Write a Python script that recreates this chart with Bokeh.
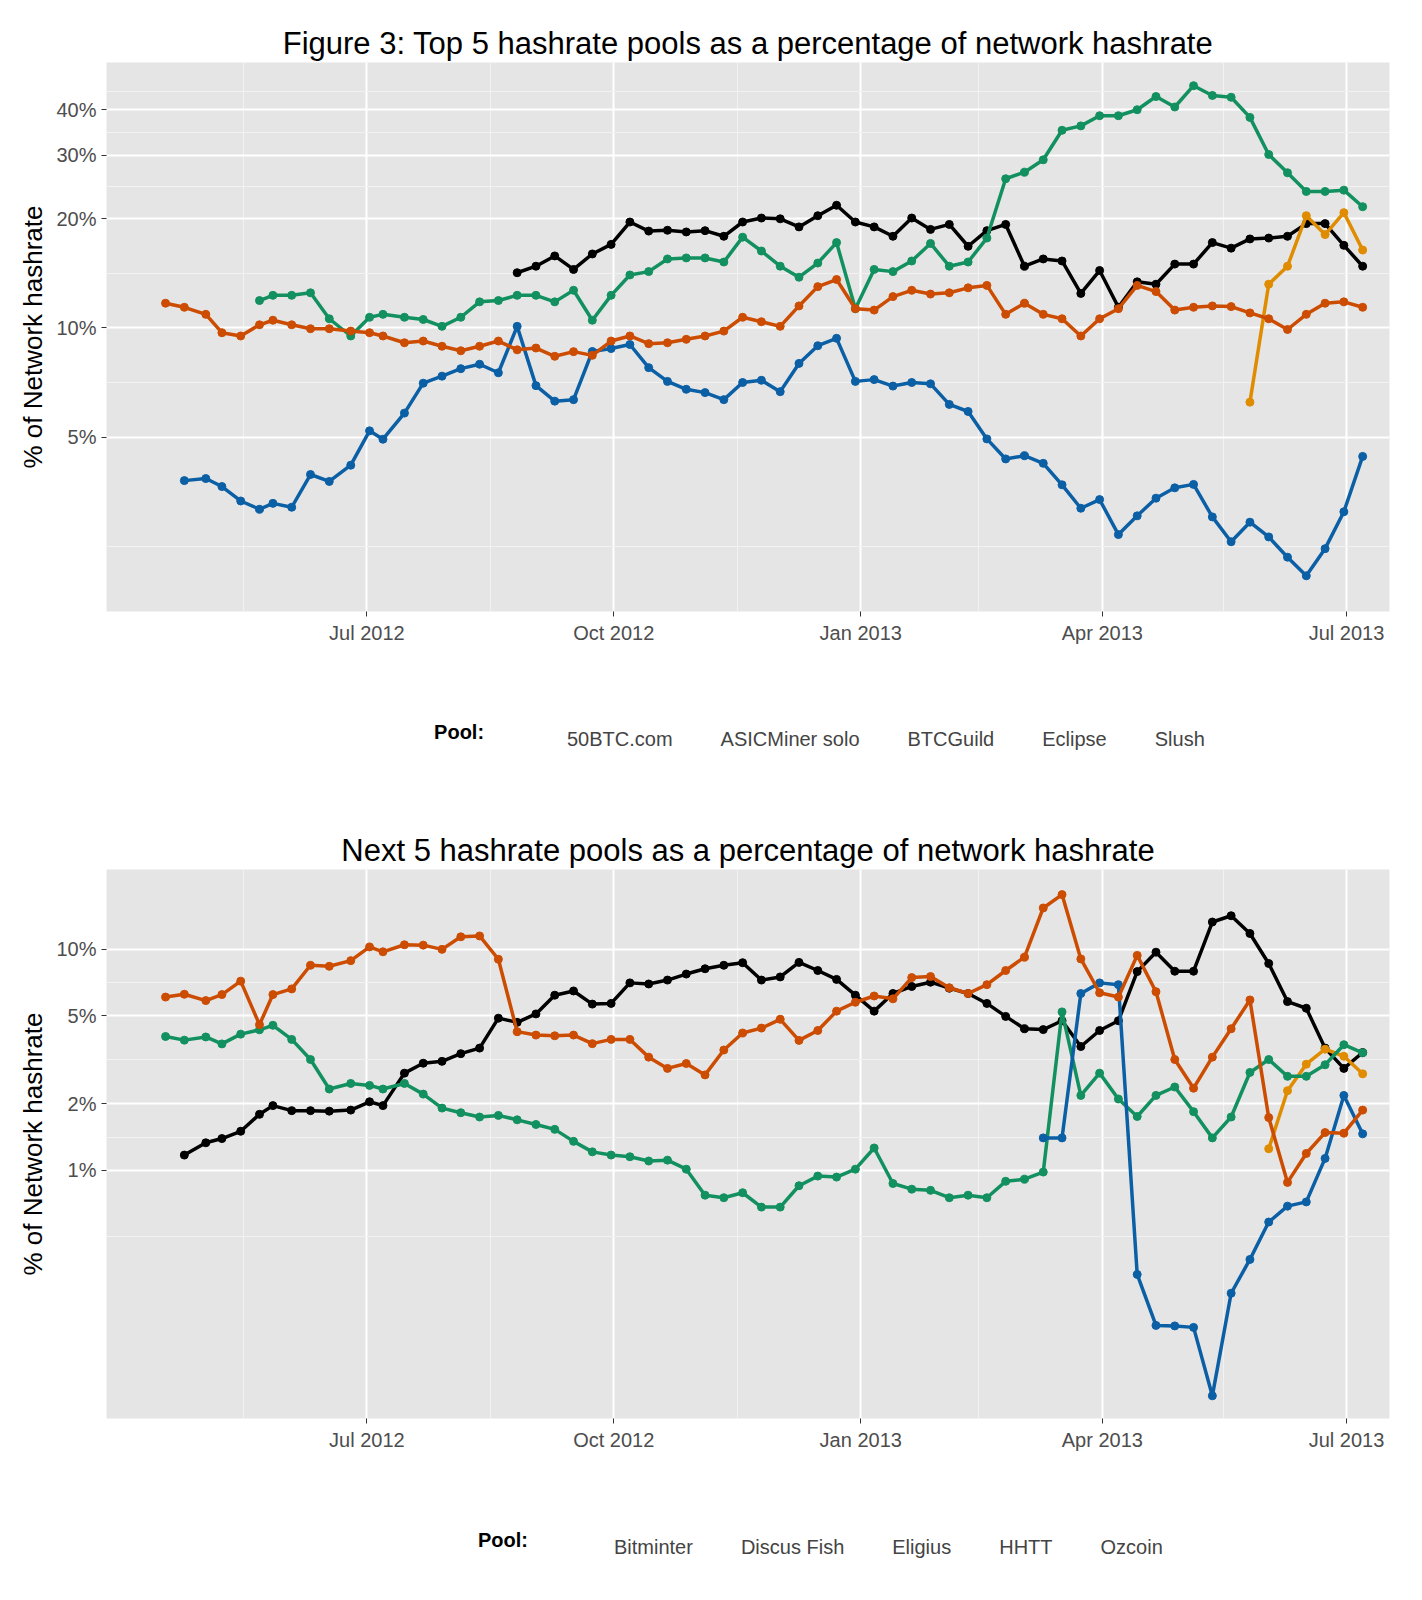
import pandas as pd
from bokeh.plotting import figure
from bokeh.layouts import column
from bokeh.models import Range1d, FixedTicker, Legend, LegendItem, ColumnDataSource
from bokeh.core.properties import value
from bokeh.embed import file_html
from bokeh.resources import INLINE

dates = ["2012-04-17", "2012-04-24", "2012-05-02", "2012-05-08", "2012-05-15", "2012-05-22",
         "2012-05-27", "2012-06-03", "2012-06-10", "2012-06-17", "2012-06-25", "2012-07-02",
         "2012-07-07"] + [d.strftime("%Y-%m-%d") for d in pd.date_range("2012-07-15", periods=52, freq="7D")]

N = None
top_names = ["50BTC.com", "ASICMiner solo", "BTCGuild", "Eclipse", "Slush"]
btc50 = [N]*19 + [14.2, 14.8, 15.8, 14.5, 16.0, 17.0, 19.6, 18.5, 18.6, 18.4, 18.55, 17.9, 19.6, 20.1, 20.0,
                  19.0, 20.4, 21.8, 19.6, 19.0, 17.9, 20.1, 18.7, 19.3, 16.8, 18.55, 19.3, 14.8, 15.5, 15.3,
                  12.45, 14.4, 11.4, 13.4, 13.2, 15.0, 15.0, 17.2, 16.6, 17.6, 17.7, 17.9, 19.4, 19.4, 16.9, 14.8]
asicminer = [N]*58 + [6.24, 13.2, 14.8, 20.4, 18.1, 20.8, 16.4]
btcguild = [N]*5 + [11.9, 12.3, 12.3, 12.5, 10.6, 9.5, 10.7, 10.9, 10.7, 10.55, 10.1, 10.7, 11.8, 11.9, 12.3,
                    12.3, 11.8, 12.7, 10.5, 12.3, 14.0, 14.3, 15.5, 15.6, 15.6, 15.2, 17.8, 16.3, 14.8, 13.8,
                    15.1, 17.2, 11.3, 14.5, 14.3, 15.3, 17.1, 14.8, 15.2, 17.7, 25.8, 26.9, 29.1, 35.1, 36.1,
                    38.5, 38.5, 40.0, 43.5, 40.7, 46.6, 43.8, 43.3, 38.1, 30.1, 26.8, 23.8, 23.8, 24.0, 21.6]
eclipse = [N, 3.79, 3.84, 3.65, 3.33, 3.16, 3.28, 3.20, 3.94, 3.77, 4.18, 5.20, 4.93, 5.82, 7.04, 7.36, 7.72,
           7.94, 7.52, 10.1, 6.93, 6.28, 6.34, 8.61, 8.77, 9.0, 7.77, 7.12, 6.77, 6.63, 6.34, 7.07, 7.17, 6.67,
           7.98, 8.93, 9.36, 7.12, 7.2, 6.91, 7.07, 7.01, 6.15, 5.88, 4.94, 4.35, 4.44, 4.23, 3.69, 3.18, 3.36,
           2.69, 3.03, 3.39, 3.62, 3.70, 3.01, 2.57, 2.91, 2.65, 2.33, 2.07, 2.46, 3.11, 4.42]
slush = [11.7, 11.4, 10.9, 9.7, 9.5, 10.2, 10.5, 10.2, 9.95, 9.95, 9.8, 9.7, 9.5, 9.1, 9.2, 8.9, 8.65, 8.9, 9.2,
         8.7, 8.8, 8.35, 8.6, 8.4, 9.2, 9.5, 9.05, 9.1, 9.3, 9.5, 9.8, 10.7, 10.4, 10.1, 11.5, 13.0, 13.6, 11.3,
         11.2, 12.2, 12.7, 12.4, 12.5, 12.9, 13.1, 10.9, 11.7, 10.9, 10.6, 9.5, 10.6, 11.3, 13.1, 12.6, 11.2,
         11.4, 11.5, 11.45, 11.0, 10.6, 9.9, 10.9, 11.7, 11.8, 11.4]

bottom_names = ["Bitminter", "Discus Fish", "Eligius", "HHTT", "Ozcoin"]
bitminter = [N, 1.17, 1.33, 1.39, 1.50, 1.79, 1.96, 1.86, 1.86, 1.85, 1.87, 2.04, 1.96, 2.75, 3.05, 3.11, 3.37,
             3.57, 4.88, 4.67, 5.10, 6.20, 6.48, 5.65, 5.69, 7.05, 6.97, 7.26, 7.73, 8.17, 8.47, 8.70, 7.26,
             7.50, 8.73, 8.02, 7.31, 6.20, 5.25, 6.31, 6.79, 7.10, 6.67, 6.31, 5.69, 4.97, 4.37, 4.33, 4.75,
             3.63, 4.29, 4.75, 7.93, 9.71, 7.96, 7.96, 13.3, 14.2, 11.8, 8.63, 5.80, 5.41, 3.57, 2.89, 3.41]
discus = [N]*59 + [1.25, 2.29, 3.02, 3.53, 3.28, 2.73]
eligius = [4.03, 3.88, 4.01, 3.73, 4.13, 4.32, 4.53, 3.91, 3.17, 2.33, 2.47, 2.42, 2.33, 2.47, 2.21, 1.91, 1.82,
           1.74, 1.77, 1.69, 1.61, 1.53, 1.35, 1.21, 1.17, 1.15, 1.10, 1.11, 1.01, 0.77, 0.75, 0.79, 0.68,
           0.68, 0.85, 0.94, 0.93, 1.01, 1.26, 0.87, 0.82, 0.81, 0.75, 0.77, 0.75, 0.89, 0.91, 0.98, 5.21,
           2.18, 2.75, 2.10, 1.75, 2.18, 2.38, 1.84, 1.40, 1.74, 2.77, 3.17, 2.66, 2.66, 3.00, 3.70, 3.40]
hhtt = [N]*47 + [1.40, 1.40, 6.31, 7.05, 6.92, 0.337, 0.198, 0.197, 0.194, 0.095, 0.277, 0.394, 0.582,
                 0.687, 0.718, 1.13, 2.18, 1.46]
ozcoin = [6.08, 6.26, 5.86, 6.24, 7.18, 4.56, 6.24, 6.62, 8.47, 8.38, 8.89, 10.26, 9.75, 10.49, 10.45, 10.0,
          11.4, 11.5, 9.02, 4.24, 4.09, 4.06, 4.09, 3.74, 3.91, 3.91, 3.25, 2.89, 3.04, 2.70, 3.50, 4.18, 4.40,
          4.82, 3.87, 4.29, 5.25, 5.76, 6.15, 5.97, 7.45, 7.53, 6.7, 6.31, 6.92, 8.02, 9.22, 15.4, 17.7, 9.05,
          6.36, 6.08, 9.39, 6.43, 3.17, 2.35, 3.25, 4.37, 5.9, 1.73, 0.88, 1.19, 1.48, 1.47, 1.87]

colors = ["#000000", "#E08C00", "#12905F", "#0B5FA5", "#CC4C02"]
x_tick_dates = ["2012-07-01", "2012-10-01", "2013-01-01", "2013-04-01", "2013-07-01"]
x_tick_labels = ["Jul 2012", "Oct 2012", "Jan 2013", "Apr 2013", "Jul 2013"]
x_minor_dates = ["2012-05-16", "2012-08-16", "2012-11-16", "2013-02-14", "2013-05-16"]
top_yticks = [5, 10, 20, 30, 40]
top_yminor = [2.5, 7.07, 14.1, 24.5, 34.6, 45]
bot_yticks = [1, 2, 5, 10]
bot_yminor = [0.5, 1.41, 3.16, 7.07]

FONT = "Liberation Sans"
W = 1406
ms = lambda d: pd.Timestamp(d).value / 1e6


def make_fig(title, names, series, yrange, yticks, yminor, top_border):
    p = figure(width=W, height=top_border + 549 + 48, x_axis_type="datetime", y_axis_type="log",
               x_range=Range1d(ms("2012-03-26"), ms("2013-07-17")), y_range=Range1d(*yrange),
               output_backend="svg", toolbar_location=None,
               min_border_left=106, min_border_right=17, min_border_top=top_border, min_border_bottom=48,
               background_fill_color="#E5E5E5", outline_line_color=None)
    p.title.text = title
    p.title.text_font = FONT
    p.title.text_font_size = "31px"
    p.title.text_font_style = "normal"
    p.title.text_color = "black"
    p.title.align = "center"
    p.title.standoff = 4
    p.xaxis.ticker = FixedTicker(ticks=[ms(d) for d in x_tick_dates], minor_ticks=[ms(d) for d in x_minor_dates])
    p.xaxis.major_label_overrides = {ms(d): l for d, l in zip(x_tick_dates, x_tick_labels)}
    p.yaxis.ticker = FixedTicker(ticks=yticks, minor_ticks=yminor)
    p.yaxis.major_label_overrides = {t: f"{t}%" for t in yticks}
    p.yaxis.axis_label = "% of Network hashrate"
    for ax in (p.xaxis, p.yaxis):
        ax.axis_line_color = None
        ax.minor_tick_line_color = None
        ax.major_tick_line_color = "#333333"
        ax.major_tick_in = 0
        ax.major_tick_out = 5
        ax.major_label_text_font = FONT
        ax.major_label_text_font_size = "20px"
        ax.major_label_text_color = "#4D4D4D"
        ax.axis_label_text_font = FONT
        ax.axis_label_text_font_size = "26px"
        ax.axis_label_text_font_style = "normal"
        ax.axis_label_text_color = "black"
    for g in (p.xgrid, p.ygrid):
        g.grid_line_color = "white"
        g.grid_line_width = 2
        g.minor_grid_line_color = "#F2F2F2"
        g.minor_grid_line_width = 1
    for name, vals, col in zip(names, series, colors):
        xs = [pd.Timestamp(d) for d, v in zip(dates, vals) if v is not None]
        ys = [v for v in vals if v is not None]
        src = ColumnDataSource(dict(x=xs, y=ys))
        p.line("x", "y", source=src, line_color=col, line_width=3.5)
        p.scatter("x", "y", source=src, color=col, size=8)
    return p


def make_legend(names, pool_x, glyph_x, center_from_top):
    H = 120
    q = figure(width=W, height=H, x_range=Range1d(0, W), y_range=Range1d(0, H), output_backend="svg",
               toolbar_location=None, min_border=0, outline_line_color=None)
    q.axis.visible = False
    q.grid.visible = False
    cy = H - center_from_top
    q.text(x=[pool_x - 8], y=[cy], text=["Pool:"], text_font=value(FONT), text_font_size="20px",
           text_font_style="bold", text_baseline="middle", text_align="left")
    items = []
    for name, col in zip(names, colors):
        lr = q.line(x=[], y=[], line_color=col, line_width=3.5)
        sr = q.scatter(x=[], y=[], color=col, size=8)
        items.append(LegendItem(label=name, renderers=[lr, sr]))
    leg = Legend(items=items, location=(glyph_x - 8 - 6, cy - 20), orientation="horizontal", glyph_width=36,
                 glyph_height=24, label_text_font=FONT, label_text_font_size="20px", spacing=6,
                 label_standoff=6, padding=6, margin=0, background_fill_alpha=0, border_line_color=None,
                 label_height=24)
    q.add_layout(leg, "center")
    return q


p1 = make_fig("Figure 3: Top 5 hashrate pools as a percentage of network hashrate", top_names,
              [btc50, asicminer, btcguild, eclipse, slush], (1.65, 54), top_yticks, top_yminor, 62)
l1 = make_legend(top_names, 367, 433, 72)
p2 = make_fig("Next 5 hashrate pools as a percentage of network hashrate", bottom_names,
              [bitminter, discus, eligius, hhtt, ozcoin], (0.075, 23), bot_yticks, bot_yminor, 90)
l2 = make_legend(bottom_names, 415, 480, 73)

lay = column(p1, l1, p2, l2, spacing=0)
open("out.html", "w").write(file_html(lay, INLINE))
